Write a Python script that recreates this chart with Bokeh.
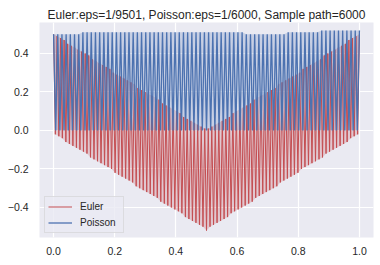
import numpy as np
from bokeh.plotting import figure
from bokeh.models import FixedTicker, Range1d
from bokeh.embed import file_html
from bokeh.resources import INLINE

title_text = "Euler:eps=1/9501, Poisson:eps=1/6000, Sample path=6000"
series_names = ["Euler", "Poisson"]
x_ticks = [0.0, 0.2, 0.4, 0.6, 0.8, 1.0]
y_ticks = [-0.4, -0.2, 0.0, 0.2, 0.4]

# Euler path: successive peaks and troughs of the fast oscillation
euler_peaks = [
    0.50, 0.49, 0.48, 0.47, 0.45, 0.44, 0.43, 0.42, 0.41, 0.40,
    0.39, 0.37, 0.36, 0.35, 0.34, 0.33, 0.32, 0.30, 0.29, 0.28,
    0.27, 0.26, 0.25, 0.24, 0.22, 0.21, 0.20, 0.19, 0.18, 0.17,
    0.16, 0.14, 0.13, 0.12, 0.11, 0.10, 0.09, 0.07, 0.06, 0.05,
    0.04, 0.03, 0.02, 0.01,
    0.01, 0.02, 0.03, 0.04, 0.05, 0.06, 0.07, 0.09, 0.10, 0.11,
    0.12, 0.13, 0.14, 0.16, 0.17, 0.18, 0.19, 0.20, 0.21, 0.22,
    0.24, 0.25, 0.26, 0.27, 0.28, 0.29, 0.30, 0.32, 0.33, 0.34,
    0.35, 0.36, 0.37, 0.39, 0.40, 0.41, 0.42, 0.43, 0.44, 0.45,
    0.47, 0.48, 0.49, 0.50,
]
euler_troughs = [
    -0.02, -0.03, -0.04, -0.06, -0.07, -0.08, -0.09, -0.10, -0.11, -0.12,
    -0.14, -0.15, -0.16, -0.17, -0.18, -0.19, -0.20, -0.22, -0.23, -0.24,
    -0.25, -0.26, -0.27, -0.29, -0.30, -0.31, -0.32, -0.33, -0.34, -0.35,
    -0.37, -0.38, -0.39, -0.40, -0.41, -0.42, -0.43, -0.45, -0.46, -0.47,
    -0.48, -0.49, -0.50, -0.52,
    -0.50, -0.49, -0.48, -0.47, -0.46, -0.45, -0.43, -0.42, -0.41, -0.40,
    -0.39, -0.38, -0.37, -0.35, -0.34, -0.33, -0.32, -0.31, -0.30, -0.29,
    -0.27, -0.26, -0.25, -0.24, -0.23, -0.22, -0.20, -0.19, -0.18, -0.17,
    -0.16, -0.15, -0.14, -0.12, -0.11, -0.10, -0.09, -0.08, -0.07, -0.06,
    -0.04, -0.03, -0.02,
]

# Poisson path: successive peaks and troughs
poisson_peaks = [
    0.50, 0.50, 0.50, 0.50, 0.50, 0.50, 0.50, 0.51, 0.51, 0.51,
    0.51, 0.51, 0.51, 0.51, 0.51, 0.51, 0.51, 0.51, 0.51, 0.51,
    0.51, 0.51, 0.51, 0.51, 0.51, 0.51, 0.51, 0.51, 0.51, 0.51,
    0.51, 0.51, 0.51, 0.51, 0.51, 0.51, 0.51, 0.51, 0.51, 0.51,
    0.51, 0.51, 0.51, 0.51, 0.51, 0.51, 0.50, 0.50, 0.50, 0.50,
    0.50, 0.50, 0.50, 0.50, 0.50, 0.50, 0.51, 0.51, 0.51, 0.51,
    0.51, 0.51, 0.51, 0.51, 0.52, 0.52, 0.52, 0.52, 0.52, 0.52,
    0.52, 0.52, 0.52, 0.52,
]
poisson_troughs = [
    0.00, 0.00, 0.00, 0.00, 0.00, 0.00, 0.00, 0.00, 0.00, 0.00,
    0.00, 0.00, 0.00, 0.00, 0.00, 0.00, 0.00, 0.00, 0.00, 0.00,
    0.00, 0.00, 0.00, 0.00, 0.00, 0.00, 0.00, 0.00, 0.00, 0.00,
    0.00, 0.00, 0.00, 0.00, 0.00, 0.00, 0.00, 0.00, 0.00, 0.00,
    0.00, 0.00, 0.00, 0.00, 0.00, 0.00, 0.00, 0.00, 0.00, 0.00,
    0.00, 0.00, 0.00, 0.00, 0.00, 0.00, 0.00, 0.00, 0.00, 0.00,
    0.00, 0.00, 0.00, 0.00, 0.00, 0.00, 0.00, 0.00, 0.00, 0.00,
    0.00, 0.00, 0.00,
]


def path(peaks, troughs):
    ys = []
    for i, pk in enumerate(peaks):
        ys.append(pk)
        if i < len(troughs):
            ys.append(troughs[i])
    ts = np.arange(len(ys)) / (len(ys) - 1)
    return ts, np.array(ys)


def band(ts, ys):
    # polygon through the peaks (forward) and the troughs (backward)
    top_t, top_y = ts[0::2], ys[0::2]
    bot_t, bot_y = ts[1::2], ys[1::2]
    return (np.concatenate([top_t, bot_t[::-1]]),
            np.concatenate([top_y, bot_y[::-1]]))


BG = "#EAEAF2"
RED = "#C44E52"
BLUE = "#4C72B0"
FONT = "Liberation Sans"

p = figure(width=380, height=262, output_backend="svg", toolbar_location=None,
           x_range=Range1d(-0.046, 1.046), y_range=Range1d(-0.556, 0.561),
           min_border_left=39, min_border_right=7, min_border_top=22,
           min_border_bottom=25, title=title_text)
p.background_fill_color = BG
p.border_fill_color = "white"
p.outline_line_color = None

p.title.align = "center"
p.title.text_font = FONT
p.title.text_font_size = "12px"
p.title.text_font_style = "normal"
p.title.text_color = "#262626"
p.title.standoff = 2
p.title.offset = 0

for ax in (p.xaxis, p.yaxis):
    ax.axis_line_color = None
    ax.major_tick_line_color = None
    ax.minor_tick_line_color = None
    ax.major_tick_out = 0
    ax.major_tick_in = 0
    ax.major_label_text_font = FONT
    ax.major_label_text_font_size = "10.5px"
    ax.major_label_text_color = "#262626"
p.xaxis.ticker = FixedTicker(ticks=x_ticks)
p.yaxis.ticker = FixedTicker(ticks=y_ticks)
p.xaxis.major_label_overrides = {t: f"{t:.1f}" for t in x_ticks}
p.yaxis.major_label_overrides = {t: f"{t:.1f}".replace("-", "\u2212") for t in y_ticks}
p.xaxis.major_label_standoff = 9
p.yaxis.major_label_standoff = 11

p.grid.grid_line_color = "white"
p.grid.grid_line_width = 1.2
p.xgrid.ticker = FixedTicker(ticks=x_ticks)
p.ygrid.ticker = FixedTicker(ticks=y_ticks)

ex, ey = path(euler_peaks, euler_troughs)
px, py = path(poisson_peaks, poisson_troughs)

ebx, eby = band(ex, ey)
pbx, pby = band(px, py)
p.patch(ebx, eby, fill_color=RED, fill_alpha=0.22, line_color=None)
p.patch(pbx, pby, fill_color=BLUE, fill_alpha=0.22, line_color=None)

p.line(ex, ey, line_color=RED, line_width=1.0, legend_label=series_names[0])
p.line(px, py, line_color=BLUE, line_width=1.3, legend_label=series_names[1])

lg = p.legend[0]
lg.location = (5, 4)
lg.background_fill_color = BG
lg.background_fill_alpha = 0.8
lg.border_line_color = "#CCCCCC"
lg.border_line_width = 1
lg.padding = 3
lg.spacing = 3
lg.margin = 0
lg.glyph_width = 24
lg.glyph_height = 13
lg.label_height = 13
lg.label_width = 40
lg.label_standoff = 8
lg.label_text_font = FONT
lg.label_text_font_size = "10px"
lg.label_text_color = "#262626"

open("out.html", "w").write(file_html(p, INLINE))
